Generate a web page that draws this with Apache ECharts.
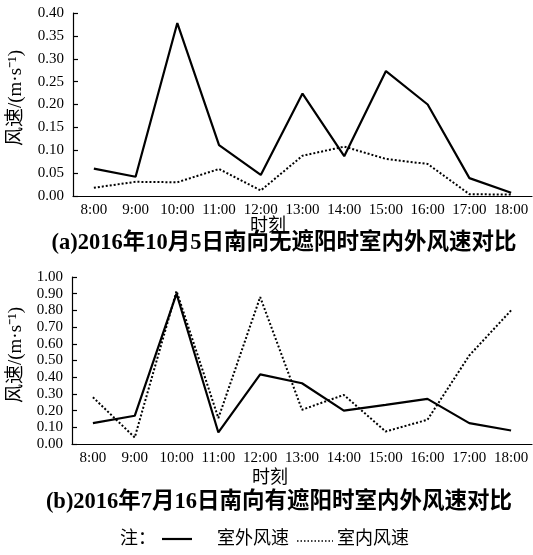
<!DOCTYPE html>
<html>
<head>
<meta charset="utf-8">
<script src="https://cdn.jsdelivr.net/npm/echarts@6/dist/echarts.min.js"></script>
<style>
html,body{margin:0;padding:0;background:#fff}
#chart{width:533px;height:555px}
</style>
</head>
<body>
<div id="chart"></div>
<script>
// Hourly measurement times
const hours = ['8:00','9:00','10:00','11:00','12:00','13:00','14:00','15:00','16:00','17:00','18:00'];

// (a) 2016-10-05, south facing, no shading (m/s)
const outdoorA = [0.060,0.042,0.378,0.111,0.046,0.224,0.087,0.273,0.200,0.039,0.007];
const indoorA  = [0.018,0.031,0.030,0.059,0.012,0.088,0.108,0.081,0.070,0.004,0.003];

// (b) 2016-07-16, south facing, with shading (m/s)
const outdoorB = [0.125,0.169,0.900,0.069,0.417,0.364,0.200,0.234,0.270,0.125,0.081];
const indoorB  = [0.280,0.039,0.916,0.155,0.880,0.205,0.294,0.075,0.145,0.530,0.800];

// Y axis ranges
const yRangeA = {min: 0, max: 0.40, interval: 0.05};
const yRangeB = {min: 0, max: 1.00, interval: 0.10};

const SERIF = '"Liberation Serif","Noto Sans CJK SC",serif';
const CJK = '"Liberation Serif","Noto Sans CJK SC",sans-serif';

function xAxisOf(gridIndex) {
  return {
    type: 'category', gridIndex, data: hours, boundaryGap: true,
    axisLine: {lineStyle: {color: '#000', width: 1.2}},
    axisTick: {inside: true, length: 5, lineStyle: {color: '#000', width: 1.2}},
    axisLabel: {color: '#000', fontFamily: SERIF, fontSize: 15, margin: 7, interval: 0},
    splitLine: {show: false}
  };
}
function yAxisOf(gridIndex, r) {
  return {
    type: 'value', gridIndex, min: r.min, max: r.max, interval: r.interval,
    axisLine: {show: true, lineStyle: {color: '#000', width: 1.2}},
    axisTick: {show: true, inside: true, length: 5, lineStyle: {color: '#000', width: 1.2}},
    axisLabel: {color: '#000', fontFamily: SERIF, fontSize: 15, margin: 9,
                formatter: v => v.toFixed(2)},
    splitLine: {show: false}
  };
}
function lineOf(idx, data, dotted) {
  return {
    type: 'line', xAxisIndex: idx, yAxisIndex: idx, data,
    symbol: 'none', smooth: false, silent: true,
    lineStyle: dotted ? {color: '#000', width: 2, type: [2, 2]} : {color: '#000', width: 2.2}
  };
}
function label(text, x, y, size, rot, weight) {
  return {
    type: 'text', x, y, rotation: rot || 0,
    style: {text, fill: '#000', font: (weight || 'normal') + ' ' + size + 'px ' + CJK,
            align: 'center', verticalAlign: 'middle'}
  };
}

const chart = echarts.init(document.getElementById('chart'), null, {renderer: 'canvas'});
chart.setOption({
  animation: false,
  backgroundColor: '#fff',
  grid: [
    {left: 73, top: 13, width: 459, height: 183},
    {left: 72, top: 277, width: 460, height: 167}
  ],
  xAxis: [xAxisOf(0), xAxisOf(1)],
  yAxis: [yAxisOf(0, yRangeA), yAxisOf(1, yRangeB)],
  series: [
    lineOf(0, outdoorA, false),
    lineOf(0, indoorA, true),
    lineOf(1, outdoorB, false),
    lineOf(1, indoorB, true)
  ],
  graphic: [
    label('风速/(m·s⁻¹)', 16, 98, 19, Math.PI / 2),
    label('风速/(m·s⁻¹)', 16, 355, 19, Math.PI / 2),
    label('时刻', 268, 226, 18),
    label('时刻', 270, 478, 18),
    label('(a)2016年10月5日南向无遮阳时室内外风速对比', 284, 243, 22.5, 0, 'bold'),
    label('(b)2016年7月16日南向有遮阳时室内外风速对比', 279, 502, 22.5, 0, 'bold'),
    // legend row
    {type: 'text', x: 120, y: 539, style: {text: '注：', fill: '#000', font: '18px ' + CJK, verticalAlign: 'middle'}},
    {type: 'line', shape: {x1: 162, y1: 539, x2: 192, y2: 539}, style: {stroke: '#000', lineWidth: 2.2}},
    {type: 'text', x: 217, y: 539, style: {text: '室外风速', fill: '#000', font: '18px ' + CJK, verticalAlign: 'middle'}},
    {type: 'line', shape: {x1: 297, y1: 541, x2: 333, y2: 541}, style: {stroke: '#000', lineWidth: 1.5, lineDash: [1.5, 2]}},
    {type: 'text', x: 337, y: 539, style: {text: '室内风速', fill: '#000', font: '18px ' + CJK, verticalAlign: 'middle'}}
  ]
});
</script>
</body>
</html>
